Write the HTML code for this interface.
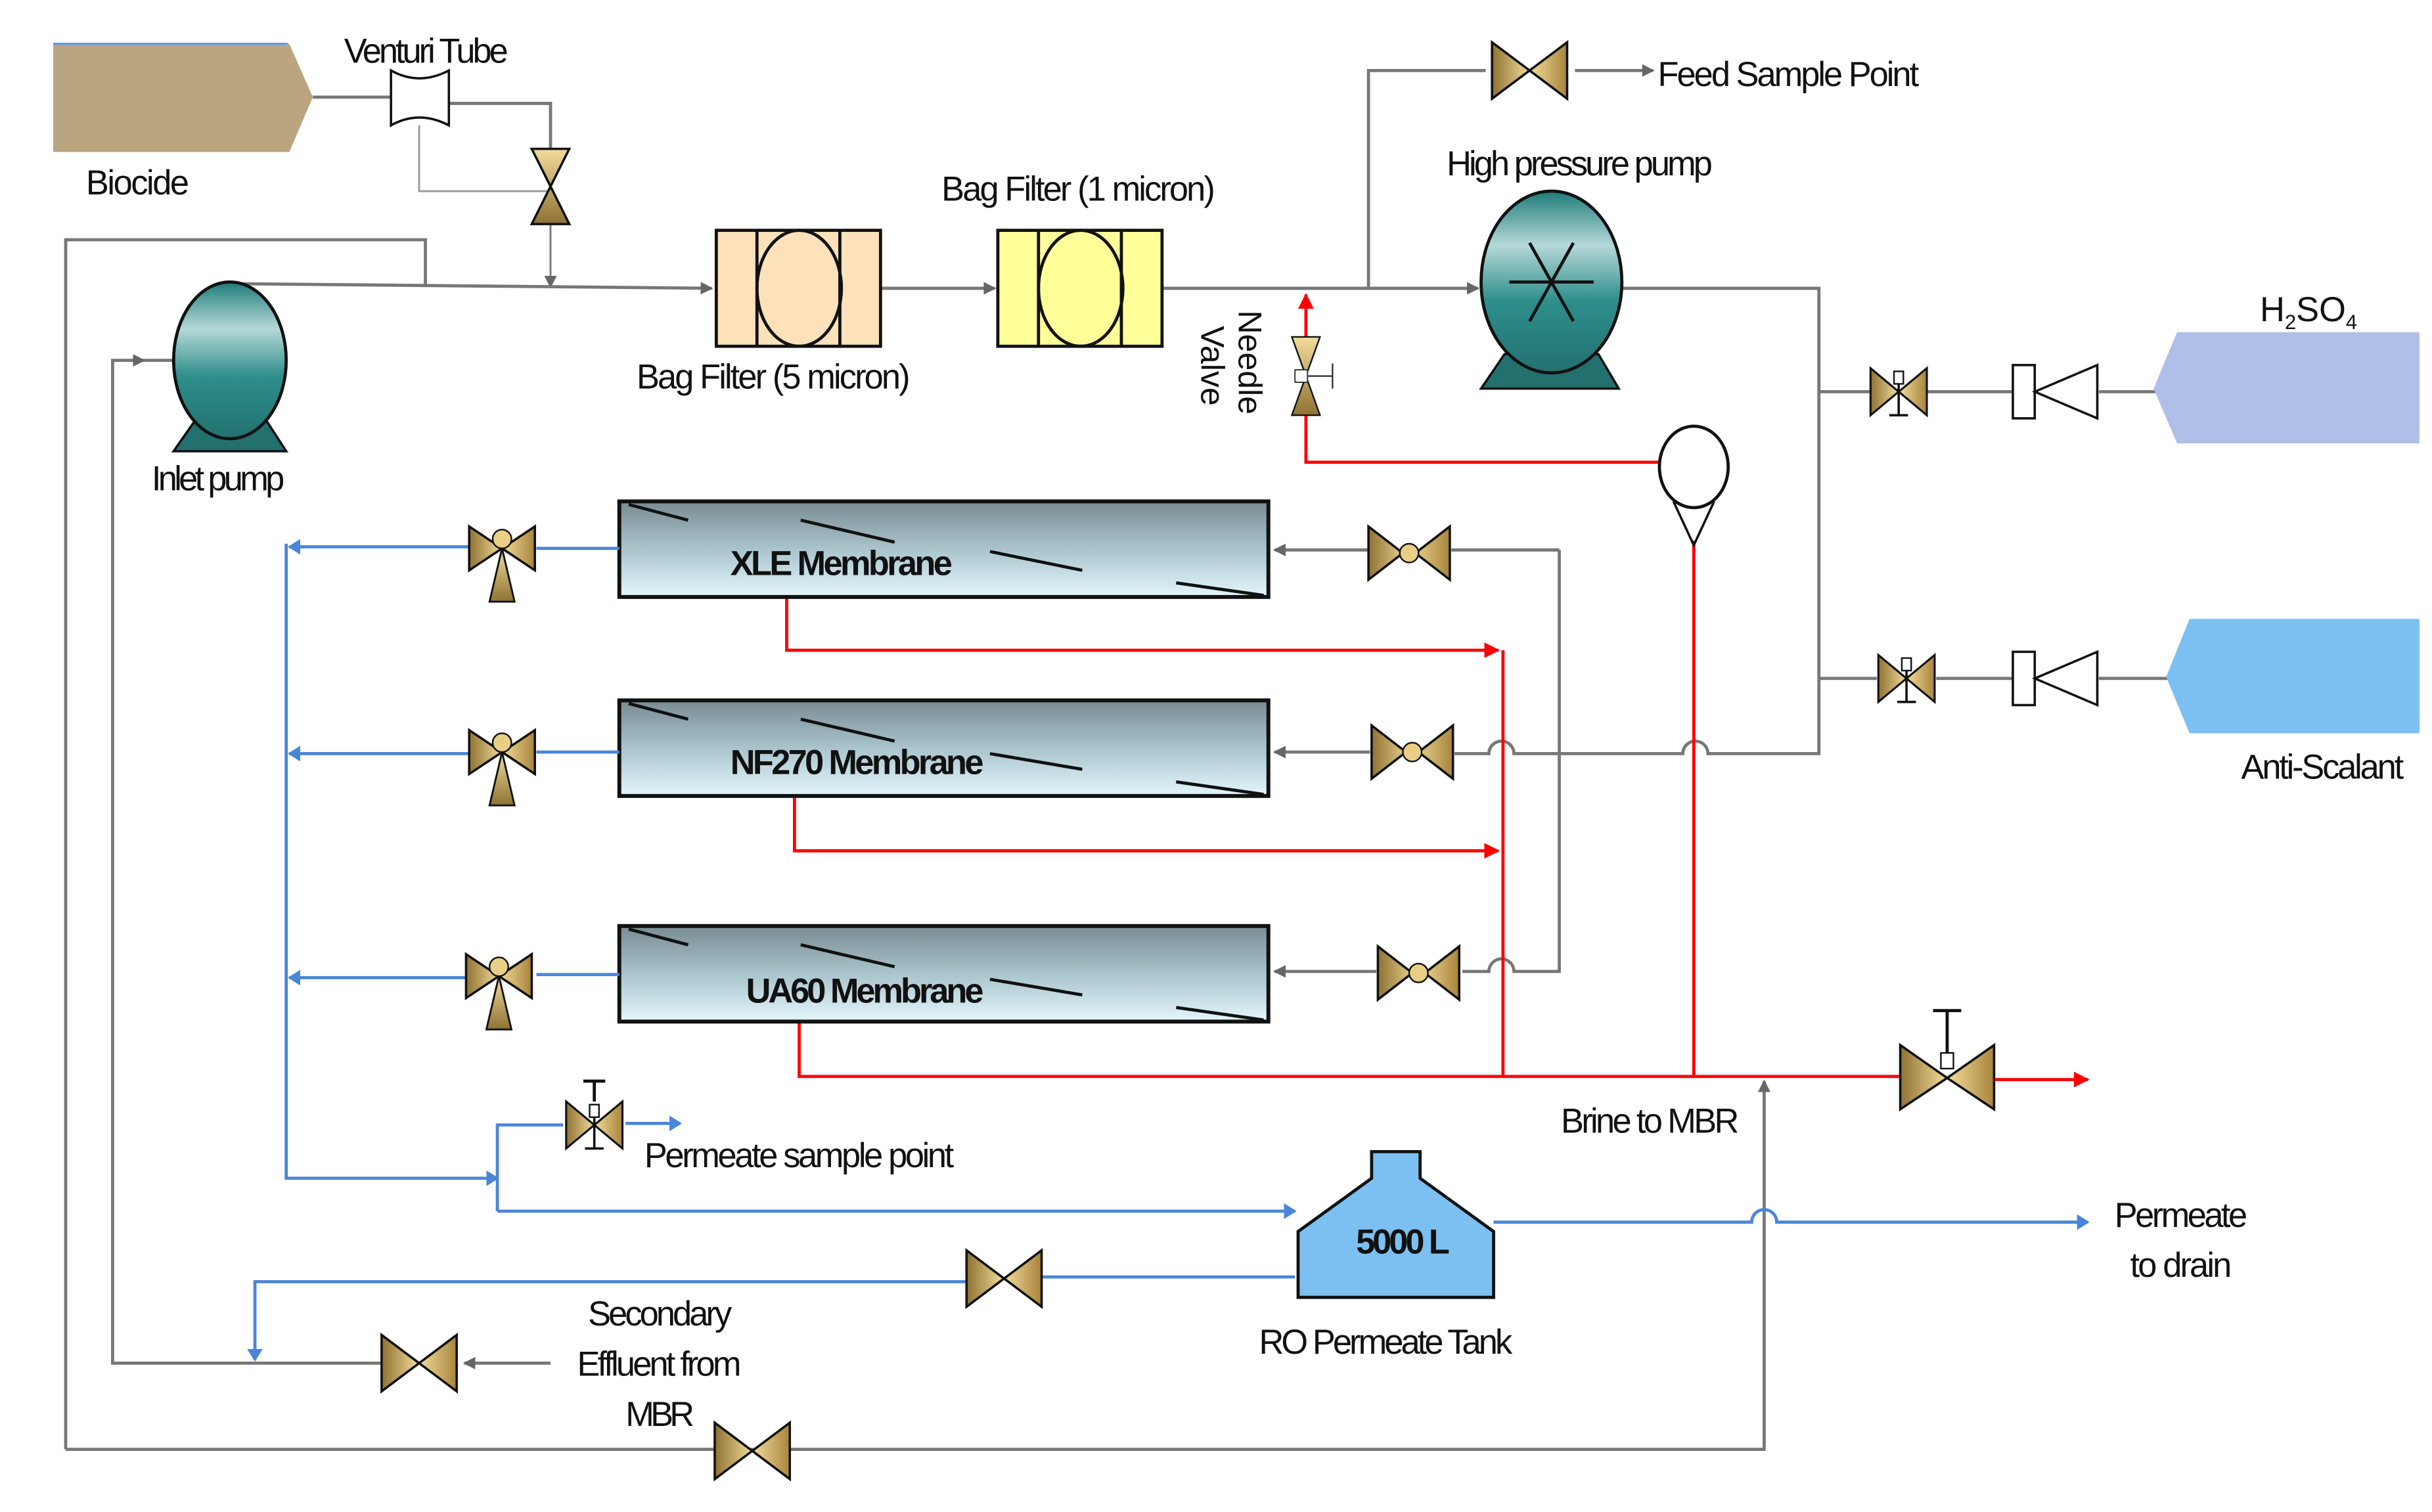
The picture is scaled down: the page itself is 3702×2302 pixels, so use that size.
<!DOCTYPE html>
<html><head><meta charset="utf-8"><style>
html,body{margin:0;padding:0;background:#fff}
svg{display:block}
text{font-family:"Liberation Sans",sans-serif;fill:#111}
</style></head><body>
<svg width="3702" height="2302" viewBox="0 0 1555 965" preserveAspectRatio="none" xmlns="http://www.w3.org/2000/svg">
<defs>
<linearGradient id="mem" x1="0" y1="0" x2="0" y2="1"><stop offset="0" stop-color="#7a8b93"/><stop offset="0.5" stop-color="#a9c4cc"/><stop offset="1" stop-color="#e4f6fc"/></linearGradient>
<linearGradient id="pump" x1="0" y1="0" x2="0" y2="1"><stop offset="0" stop-color="#1f7c7a"/><stop offset="0.3" stop-color="#b6d8d8"/><stop offset="0.6" stop-color="#2e8f8c"/><stop offset="1" stop-color="#22716f"/></linearGradient>
<linearGradient id="gold" x1="0" y1="0" x2="1" y2="0"><stop offset="0" stop-color="#8f7233"/><stop offset="0.5" stop-color="#f2dc9a"/><stop offset="1" stop-color="#a8843c"/></linearGradient>
<linearGradient id="goldv" x1="0" y1="0" x2="0" y2="1"><stop offset="0" stop-color="#f2dc9a"/><stop offset="1" stop-color="#8f7233"/></linearGradient>
<marker id="ag" markerWidth="8" markerHeight="8" refX="7" refY="4" orient="auto" markerUnits="userSpaceOnUse"><path d="M0,0L8,4L0,8z" fill="#666"/></marker>
<marker id="ab" markerWidth="8" markerHeight="10" refX="7" refY="5" orient="auto" markerUnits="userSpaceOnUse"><path d="M0,0L8,5L0,10z" fill="#4a86d8"/></marker>
<marker id="ar" markerWidth="10" markerHeight="10" refX="9" refY="5" orient="auto" markerUnits="userSpaceOnUse"><path d="M0,0L10,5L0,10z" fill="#f00"/></marker>
<g id="bv"><path d="M-24,-18L0,0L-24,18z M24,-18L0,0L24,18z" fill="url(#gold)" stroke="#111" stroke-width="1.5"/></g>
<g id="gv"><path d="M-26,-17L-4,0L-26,17z M26,-17L4,0L26,17z" fill="url(#gold)" stroke="#111" stroke-width="1.5"/><circle r="6" fill="#e8cf85" stroke="#111" stroke-width="1"/></g>
<g id="tw"><path d="M-21,-14L0,0L-21,14z M21,-14L0,0L21,14z" fill="url(#gold)" stroke="#111" stroke-width="1.5"/><path d="M0,0L-8,34L8,34z" fill="url(#goldv)" stroke="#111" stroke-width="1.2"/><circle cy="-6" r="6" fill="#e8cf85" stroke="#111" stroke-width="1"/></g>
<g id="nv"><path d="M-18,-15L0,0L-18,15z M18,-15L0,0L18,15z" fill="url(#gold)" stroke="#111" stroke-width="1.3"/><path d="M0,-13V15M-6,15H6" stroke="#111" stroke-width="1.5"/><rect x="-3" y="-13" width="6" height="8" fill="#fff" stroke="#111"/></g>
<g id="ck"><rect x="-27" y="-17" width="14" height="34" fill="#fff" stroke="#111" stroke-width="1.5"/><path d="M-13,0L27,-17V17z" fill="#fff" stroke="#111" stroke-width="1.5"/></g>
</defs>

<polygon points="34,28 185,28 200,62 185,97 34,97" fill="#bba57f"/>
<line x1="34" y1="28" x2="184" y2="28" stroke="#6a9ae0" stroke-width="1.5"/>
<text x="55" y="124" font-size="22" textLength="66">Biocide</text>
<text x="220" y="40" font-size="22" textLength="105">Venturi Tube</text>
<g fill="none" stroke="#777" stroke-width="2">
<path d="M200,62H250"/>
<path d="M287,66H352V95"/>
<path d="M268,80V122H352" stroke-width="1.2" stroke="#999"/>
<path d="M352,143V183" stroke-width="1.2" marker-end="url(#ag)"/>
<path d="M42,925V153H272V183"/>
<path d="M147,181L455,184" marker-end="url(#ag)"/>
<path d="M563,184H636" marker-end="url(#ag)"/>
<path d="M743,184H945" marker-end="url(#ag)"/>
<path d="M875,184V45H950"/>
<path d="M1007,45H1057" marker-end="url(#ag)"/>
<path d="M1037,184H1163V481H1092a8,8 0 0 0 -16,0H968a8,8 0 0 0 -16,0H930"/>
<path d="M1163,250H1196M1232,250H1287M1342,250H1380"/>
<path d="M1163,433H1200M1238,433H1290M1342,433H1387"/>
<path d="M997,351V620H968a8,8 0 0 0 -16,0H935"/>
<path d="M997,351H928"/>
<path d="M875,351H815" marker-end="url(#ag)"/>
<path d="M876,480H815" marker-end="url(#ag)"/>
<path d="M880,620H815" marker-end="url(#ag)"/>
<path d="M352,870H297" marker-end="url(#ag)"/>
<path d="M245,870H72V230H92" marker-end="url(#ag)"/>
<path d="M92,230H147"/>
<path d="M42,925H1128V690" marker-end="url(#ag)"/>
</g>
<path d="M250,45Q268,55 287,45V80Q268,70 250,80z" fill="#fff" stroke="#111" stroke-width="1.5"/>
<path d="M340,95H364L340,143H364z" fill="url(#goldv)" stroke="#111" stroke-width="1.5"/>

<rect x="458" y="147" width="105" height="74" fill="#fde1bb" stroke="#111" stroke-width="2"/>
<path d="M484,147V221M537,147V221" stroke="#111" stroke-width="2"/>
<ellipse cx="511" cy="184" rx="27" ry="37" fill="none" stroke="#111" stroke-width="2"/>
<text x="407" y="248" font-size="22" textLength="175">Bag Filter (5 micron)</text>
<rect x="638" y="147" width="105" height="74" fill="#ffff99" stroke="#111" stroke-width="2"/>
<path d="M664,147V221M717,147V221" stroke="#111" stroke-width="2"/>
<ellipse cx="691" cy="184" rx="27" ry="37" fill="none" stroke="#111" stroke-width="2"/>
<text x="602" y="128" font-size="22" textLength="175">Bag Filter (1 micron)</text>

<polygon points="125,268 170,268 183,288 111,288" fill="#22716f" stroke="#111" stroke-width="1.5"/>
<ellipse cx="147" cy="230" rx="36" ry="50" fill="url(#pump)" stroke="#111" stroke-width="2"/>
<text x="97" y="313" font-size="22" textLength="85">Inlet pump</text>

<polygon points="962,226 1022,226 1035,248 947,248" fill="#22716f" stroke="#111" stroke-width="1.5"/>
<ellipse cx="992" cy="180" rx="45" ry="58" fill="url(#pump)" stroke="#111" stroke-width="2"/>
<path d="M965,180H1019M978,155L1006,205M1006,155L978,205" stroke="#111" stroke-width="2"/>
<text x="925" y="112" font-size="22" textLength="170">High pressure pump</text>

<use href="#bv" x="978" y="45"/>
<text x="1060" y="55" font-size="22" textLength="167">Feed Sample Point</text>

<g fill="none" stroke="#f00" stroke-width="2">
<path d="M835,215V188" marker-end="url(#ar)"/>
<path d="M835,265V295H1062"/>
<path d="M1083,345V687"/>
<path d="M503,381V415H958" marker-end="url(#ar)"/>
<path d="M508,508V543H958" marker-end="url(#ar)"/>
<path d="M961,415V687"/>
<path d="M511,652V687H1215"/>
<path d="M1275,689H1335" marker-end="url(#ar)"/>
</g>
<path d="M826,215H844L826,265H844z" fill="url(#goldv)" stroke="#111" stroke-width="1"/>
<path d="M835,240H852M852,232V248" stroke="#333" stroke-width="1"/>
<rect x="828" y="236" width="8" height="8" fill="#fff" stroke="#333" stroke-width="0.8"/>
<text transform="translate(792,198) rotate(90)" font-size="21">Needle</text>
<text transform="translate(768,208) rotate(90)" font-size="21">Valve</text>
<ellipse cx="1083" cy="298" rx="22" ry="26" fill="#fff" stroke="#111" stroke-width="2"/>
<path d="M1070,320L1083,348L1096,320" fill="none" stroke="#111" stroke-width="1.5"/>

<use href="#nv" x="1214" y="250"/>
<use href="#ck" x="1314" y="250"/>
<polygon points="1392,212 1547,212 1547,283 1392,283 1377,248" fill="#b0bfe8"/>
<text x="1445" y="205" font-size="22">H<tspan font-size="13" dy="5">2</tspan><tspan dy="-5">SO</tspan><tspan font-size="13" dy="5">4</tspan></text>
<use href="#nv" x="1219" y="433"/>
<use href="#ck" x="1314" y="433"/>
<polygon points="1400,395 1547,395 1547,468 1400,468 1385,432" fill="#7bc0f0"/>
<text x="1433" y="497" font-size="22" textLength="104">Anti-Scalant</text>

<g stroke="#111">
<rect x="396" y="320" width="415" height="61" fill="url(#mem)" stroke-width="2.5"/>
<rect x="396" y="447" width="415" height="61" fill="url(#mem)" stroke-width="2.5"/>
<rect x="396" y="591" width="415" height="61" fill="url(#mem)" stroke-width="2.5"/>
<g stroke-width="2">
<path d="M402,322L440,332M512,332L572,346M633,352L692,364M752,372L808,380"/>
<path d="M402,449L440,459M512,459L572,473M633,481L692,491M752,499L808,507"/>
<path d="M402,593L440,603M512,603L572,617M633,625L692,635M752,643L808,651"/>
</g>
</g>
<text x="467" y="367" font-size="22" font-weight="bold" textLength="142">XLE Membrane</text>
<text x="467" y="494" font-size="22" font-weight="bold" textLength="162">NF270 Membrane</text>
<text x="477" y="640" font-size="22" font-weight="bold" textLength="152">UA60 Membrane</text>
<use href="#gv" x="901" y="353"/>
<use href="#gv" x="903" y="480"/>
<use href="#gv" x="907" y="621"/>

<g fill="none" stroke="#4a86d8" stroke-width="2">
<path d="M396,350H343M300,349H185" marker-end="url(#ab)"/>
<path d="M396,480H343M300,481H185" marker-end="url(#ab)"/>
<path d="M396,622H343M300,624H185" marker-end="url(#ab)"/>
<path d="M183,347V752H318" marker-end="url(#ab)"/>
<path d="M318,773V718H360"/>
<path d="M400,717H435" marker-end="url(#ab)"/>
<path d="M318,773H828" marker-end="url(#ab)"/>
<path d="M955,780H1120a8,8 0 0 1 16,0H1335" marker-end="url(#ab)"/>
<path d="M828,815H665M618,818H163V868" marker-end="url(#ab)"/>
</g>
<use href="#tw" x="321" y="350"/>
<use href="#tw" x="321" y="480"/>
<use href="#tw" x="319" y="623"/>
<use href="#nv" x="380" y="718"/>
<path d="M380,703V690M373,690H387" stroke="#111" stroke-width="2"/>
<text x="412" y="745" font-size="22" textLength="198">Permeate sample point</text>

<path d="M877,735H908V752L955,786V828H830V786L877,752z" fill="#7bc0f0" stroke="#111" stroke-width="2"/>
<text x="867" y="800" font-size="22" font-weight="bold" textLength="60">5000 L</text>
<text x="805" y="864" font-size="22" textLength="162">RO Permeate Tank</text>
<text x="1352" y="783" font-size="22" textLength="85">Permeate</text>
<text x="1362" y="815" font-size="22" textLength="65">to drain</text>
<use href="#bv" x="642" y="816"/>
<use href="#bv" x="268" y="870"/>
<use href="#bv" x="481" y="926"/>
<text x="376" y="846" font-size="22" textLength="92">Secondary</text>
<text x="369" y="878" font-size="22" textLength="105">Effluent from</text>
<text x="400" y="910" font-size="22" textLength="44">MBR</text>

<path d="M1215,667L1245,688L1215,708z M1275,667L1245,688L1275,708z" fill="url(#gold)" stroke="#111" stroke-width="1.5"/>
<path d="M1245,645V672M1236,645H1254" stroke="#111" stroke-width="2"/>
<rect x="1241" y="672" width="8" height="10" fill="#fff" stroke="#111"/>
<text x="998" y="723" font-size="22" textLength="114">Brine to MBR</text>
</svg>
</body></html>
